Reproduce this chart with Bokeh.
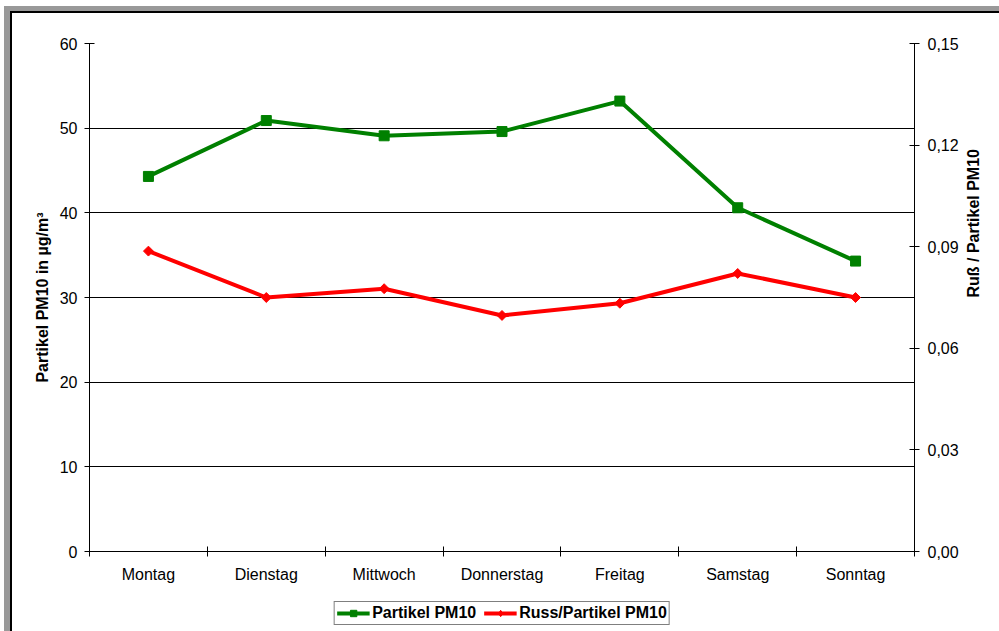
import math

from bokeh.embed import file_html
from bokeh.resources import INLINE
from bokeh.layouts import column
from bokeh.plotting import figure
from bokeh.models import (Range1d, LinearAxis, FixedTicker, CustomJSTickFormatter,
                          Legend, LegendItem)

# Weekly profile of PM10 particles and the soot fraction
days = ["Montag", "Dienstag", "Mittwoch", "Donnerstag", "Freitag", "Samstag", "Sonntag"]
pm10 = [44.3, 50.9, 49.1, 49.6, 53.2, 40.6, 34.3]
soot_ratio = [0.0887, 0.0750, 0.0776, 0.0697, 0.0733, 0.0821, 0.0750]
left_ticks = [0, 10, 20, 30, 40, 50, 60]
right_ticks = [0.0, 0.03, 0.06, 0.09, 0.12, 0.15]
series_names = ["Partikel PM10", "Russ/Partikel PM10"]

FONT = "Liberation Sans"
GREEN = "#008000"
RED = "#FF0000"
x_pos = [i + 0.5 for i in range(len(days))]
bounds = list(range(len(days) + 1))

p = figure(width=999, height=595, output_backend="svg", toolbar_location=None,
           x_range=Range1d(0, len(days)), y_range=Range1d(0, 60),
           min_border_left=89, min_border_right=85, min_border_top=43, min_border_bottom=44,
           background_fill_color="white", border_fill_color=None)
p.outline_line_color = None
p.extra_y_ranges = {"ratio": Range1d(0, 0.15)}

# chart frame: grey band with a black rule along the top and left edges
p.styles = {"box-shadow": "inset 4px 6px 0 0 white, inset 10px 11px 0 0 #999999, "
                          "inset 12px 13px 0 0 black",
            "background-color": "white"}

# category axis: labels at the centres, ticks on the boundaries
xa = p.xaxis[0]
xa.ticker = FixedTicker(ticks=x_pos, minor_ticks=bounds)
xa.major_label_overrides = {x: d for x, d in zip(x_pos, days)}
xa.major_tick_in = 0
xa.major_tick_out = 0
xa.minor_tick_in = 5
xa.minor_tick_out = 5
xa.minor_tick_line_color = "black"
xa.axis_line_color = "black"
xa.major_label_standoff = 9
xa.major_label_text_font = FONT
xa.major_label_text_font_size = "16px"
xa.major_label_text_color = "black"

ya = p.yaxis[0]
ya.ticker = FixedTicker(ticks=left_ticks)
ya.minor_tick_line_color = None
ya.major_tick_in = 5
ya.major_tick_out = 5
ya.major_label_standoff = 7
ya.axis_label = "Partikel PM10 in µg/m³"
ya.axis_label_standoff = 6

ra = LinearAxis(y_range_name="ratio",
                ticker=FixedTicker(ticks=right_ticks),
                formatter=CustomJSTickFormatter(code="return tick.toFixed(2).replace('.', ',');"),
                axis_label="Ruß / Partikel PM10")
ra.minor_tick_line_color = None
ra.major_tick_in = 5
ra.major_tick_out = 5
ra.major_label_standoff = 8
ra.axis_label_standoff = 12
ra.axis_label_orientation = math.pi / 2
p.add_layout(ra, "right")

for ax in (ya, ra):
    ax.axis_line_color = "black"
    ax.major_tick_line_color = "black"
    ax.major_label_text_font = FONT
    ax.major_label_text_font_size = "16px"
    ax.major_label_text_color = "black"
    ax.axis_label_text_font = FONT
    ax.axis_label_text_font_size = "16px"
    ax.axis_label_text_font_style = "bold"
    ax.axis_label_text_color = "black"

p.xgrid.visible = False
p.ygrid.ticker = FixedTicker(ticks=left_ticks)
p.ygrid.grid_line_color = "black"
p.ygrid.grid_line_width = 1

# series
p.line(x_pos, pm10, line_color=GREEN, line_width=4)
p.scatter(x_pos, pm10, marker="square", size=10, fill_color=GREEN, line_color=GREEN)
p.line(x_pos, soot_ratio, line_color=RED, line_width=4, y_range_name="ratio")
p.scatter(x_pos, soot_ratio, marker="square", angle=math.pi / 4, size=7,
          fill_color=RED, line_color=RED, y_range_name="ratio")

# legend strip underneath the chart; its series sit outside its (empty) view
lg = figure(width=999, height=36, output_backend="svg", toolbar_location=None,
            x_range=Range1d(-2, -1), y_range=Range1d(-2, -1),
            x_axis_location=None, y_axis_location=None,
            min_border=0, min_border_left=4,
            background_fill_color=None, border_fill_color=None)
lg.outline_line_color = None
lg.grid.visible = False
lg.styles = {"box-shadow": "inset 4px 0 0 0 white, inset 10px 0 0 0 #999999, "
                           "inset 12px 0 0 0 black",
             "background-color": "white"}

items = []
for name, ys, color, marker, size in [(series_names[0], pm10, GREEN, "square", 10),
                                      (series_names[1], soot_ratio, RED, "diamond", 12)]:
    ln = lg.line(x_pos, ys, line_color=color, line_width=4)
    sc = lg.scatter(x_pos, ys, marker=marker, size=size,
                    fill_color=color, line_color=color)
    items.append(LegendItem(label=name, renderers=[ln, sc]))

legend = Legend(items=items, orientation="horizontal", location="center",
                border_line_color="black", border_line_width=1,
                background_fill_color="white", background_fill_alpha=1,
                padding=2, margin=0, spacing=7, label_standoff=3,
                glyph_width=33, glyph_height=16, label_height=16,
                label_text_font=FONT, label_text_font_size="16px",
                label_text_font_style="bold", label_text_color="black")
lg.add_layout(legend, "center")

layout = column(p, lg, spacing=0)
open("out.html", "w").write(file_html(layout, INLINE))
